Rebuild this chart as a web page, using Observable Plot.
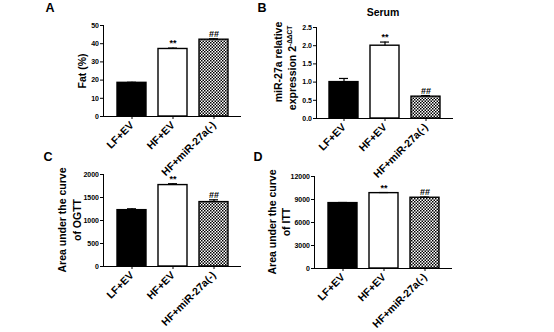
<!DOCTYPE html>
<html>
<head>
<meta charset="utf-8">
<script src="https://cdn.jsdelivr.net/npm/d3@7"></script>
<script src="https://cdn.jsdelivr.net/npm/@observablehq/plot@0.6"></script>
<style>
  html, body { margin: 0; padding: 0; background: #fff; }
  #wrap { position: relative; width: 554px; height: 332px; overflow: hidden; font-family: "Liberation Sans", Arial, sans-serif; font-weight: bold; color: #000; }
  .lbl { position: absolute; white-space: nowrap; transform: translate(-50%, -50%); line-height: 1; }
  .rot { position: absolute; white-space: nowrap; transform: translate(-50%, -50%) rotate(-90deg); font-size: 10.5px; line-height: 1; }
  .letter { font-size: 12.5px; }
  sup { font-size: 6.5px; vertical-align: 4px; }
</style>
</head>
<body>
<svg width="0" height="0" style="position:absolute">
  <defs>
    <pattern id="checker" width="3" height="3" patternUnits="userSpaceOnUse">
      <rect x="0" y="0" width="3" height="3" fill="#fff"></rect>
      <rect x="0" y="0" width="1.5" height="1.5" fill="#000"></rect>
      <rect x="1.5" y="1.5" width="1.5" height="1.5" fill="#000"></rect>
    </pattern>
  </defs>
</svg>
<div id="wrap">
  <div class="lbl letter" style="left:50px;top:8px">A</div>
  <div class="lbl letter" style="left:262px;top:8px">B</div>
  <div class="lbl letter" style="left:48px;top:157px">C</div>
  <div class="lbl letter" style="left:258px;top:157px">D</div>
  <div class="lbl" style="left:383px;top:12px;font-size:10.5px">Serum</div>
  <div class="rot" style="left:82px;top:71px">Fat (%)</div>
  <div class="rot" style="left:278px;top:62px">miR-27a relative</div>
  <div class="rot" style="left:292px;top:68px">expression 2<sup>-ΔΔCT</sup></div>
  <div class="rot" style="left:62px;top:220px">Area under the curve</div>
  <div class="rot" style="left:77px;top:220px">of OGTT</div>
  <div class="rot" style="left:272px;top:222px">Area under the curve</div>
  <div class="rot" style="left:286px;top:222px">of ITT</div>
</div>
<script>
// ---- data ----
const groups = ["LF+EV", "HF+EV", "HF+miR-27a(-)"];
const barFills = ["black", "white", "url(#checker)"];
const annotations = ["", "**", "##"];

const fatValues = [18.5, 37.1, 42.2];
const fatErrors = [0.3, 0.5, 0.5];
const fatTicks = [0, 10, 20, 30, 40, 50];

const serumValues = [1.0, 2.0, 0.6];
const serumErrors = [0.1, 0.1, 0.03];
const serumTicks = [0, 0.5, 1.0, 1.5, 2.0, 2.5];

const ogttValues = [1225, 1770, 1400];
const ogttErrors = [30, 30, 50];
const ogttTicks = [0, 500, 1000, 1500, 2000];

const ittValues = [8530, 9830, 9230];
const ittErrors = [80, 80, 90];
const ittTicks = [0, 3000, 6000, 9000, 12000];

const W = 554, H = 332;

function panel({values, errors, ticks, fmt, left, right, top, bottom}) {
  const data = groups.map((g, i) => ({group: g, value: values[i], err: errors[i], ann: annotations[i], fill: barFills[i]}));
  return Plot.plot({
    width: W, height: H,
    marginLeft: left, marginRight: W - right, marginTop: top, marginBottom: H - bottom,
    style: {background: "transparent", overflow: "visible", fontFamily: "Liberation Sans, Arial, sans-serif", fontWeight: "bold", color: "#000"},
    x: {domain: groups, padding: 0.3},
    y: {domain: [0, ticks[ticks.length - 1]]},
    color: {type: "identity"},
    marks: [
      Plot.barY(data, {x: "group", y: "value", fill: "fill", stroke: "black", strokeWidth: 1.4}),
      Plot.ruleX(data, {x: "group", y1: "value", y2: d => d.value + d.err, stroke: "black", strokeWidth: 1.2}),
      Plot.tickY(data, {x: "group", y: d => d.value + d.err, stroke: "black", strokeWidth: 1.2, insetLeft: 10, insetRight: 10}),
      Plot.text(data.filter(d => d.ann), {x: "group", y: d => d.value + d.err, text: "ann", dy: -4.5, fontSize: 9, fill: "black"}),
      Plot.axisY({ticks, tickFormat: fmt, tickSize: 3, tickPadding: 1.5, fontSize: 7, label: null}),
      Plot.axisX({tickRotate: -45, tickSize: 3, tickPadding: 4, fontSize: 10.5, label: null}),
      Plot.ruleY([0], {stroke: "black", strokeWidth: 1}),
      Plot.frame({anchor: "left", stroke: "black", strokeWidth: 1})
    ]
  });
}

const wrap = document.getElementById("wrap");
[
  panel({values: fatValues, errors: fatErrors, ticks: fatTicks, fmt: d3.format("d"), left: 103, right: 241, top: 25, bottom: 116}),
  panel({values: serumValues, errors: serumErrors, ticks: serumTicks, fmt: d3.format(".1f"), left: 316, right: 453, top: 27, bottom: 118}),
  panel({values: ogttValues, errors: ogttErrors, ticks: ogttTicks, fmt: d3.format("d"), left: 103, right: 241, top: 174, bottom: 266}),
  panel({values: ittValues, errors: ittErrors, ticks: ittTicks, fmt: d3.format("d"), left: 314, right: 452, top: 176, bottom: 268})
].forEach(svg => {
  svg.style.position = "absolute";
  svg.style.left = "0px";
  svg.style.top = "0px";
  svg.style.maxWidth = "none";
  wrap.appendChild(svg);
});
</script>
</body>
</html>
